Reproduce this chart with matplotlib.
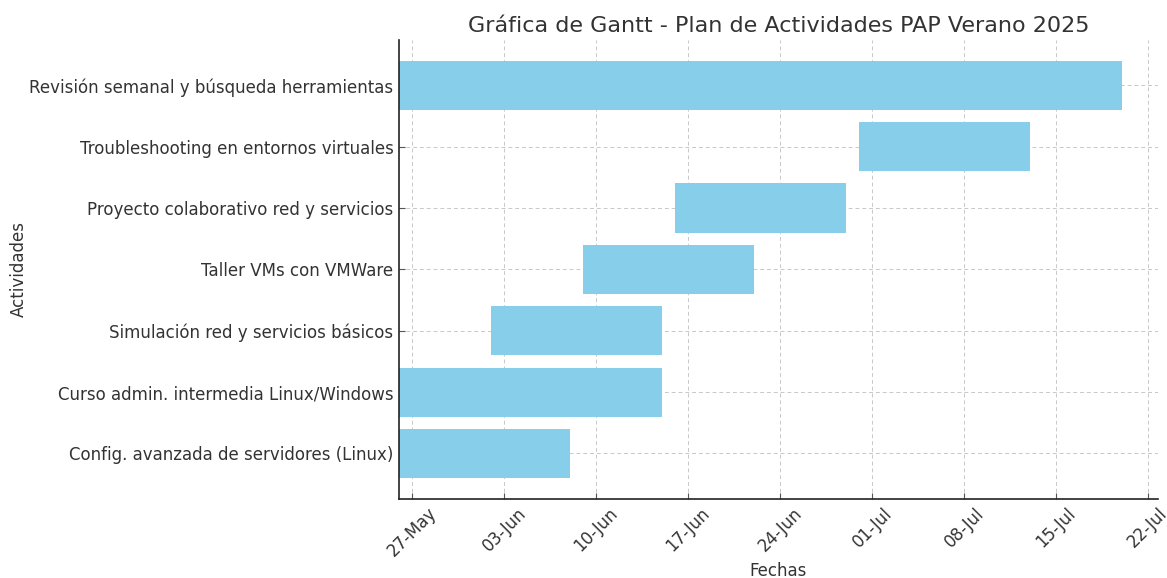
import datetime as dt
import matplotlib
matplotlib.use('Agg')
import matplotlib.dates as mdates
from matplotlib import pyplot as plt

# actividades (de abajo hacia arriba) con fechas de inicio y fin
actividades = [
	'Config. avanzada de servidores (Linux)',
	'Curso admin. intermedia Linux/Windows',
	'Simulación red y servicios básicos',
	'Taller VMs con VMWare',
	'Proyecto colaborativo red y servicios',
	'Troubleshooting en entornos virtuales',
	'Revisión semanal y búsqueda herramientas',
]
inicios = ['2025-05-26', '2025-05-26', '2025-06-02', '2025-06-09', '2025-06-16', '2025-06-30', '2025-05-26']
fines = ['2025-06-08', '2025-06-15', '2025-06-15', '2025-06-22', '2025-06-29', '2025-07-13', '2025-07-20']

TEXT = '#333333'
plt.rcParams['font.family'] = 'DejaVu Sans'


def main():
	start = [dt.datetime.strptime(s, '%Y-%m-%d') for s in inicios]
	end = [dt.datetime.strptime(s, '%Y-%m-%d') for s in fines]
	left = mdates.date2num(start)
	width = mdates.date2num(end) - left

	fig = plt.figure(figsize=(11.67, 5.78), dpi=100)
	ax = fig.add_axes([0.342, 0.137, 0.650, 0.794])
	ax.barh(range(len(actividades)), width, left=left, height=0.8, color='skyblue')

	ax.set_yticks(range(len(actividades)))
	ax.set_yticklabels(actividades)
	ax.xaxis_date()
	ax.xaxis.set_major_locator(mdates.WeekdayLocator(byweekday=mdates.TU))
	ax.xaxis.set_major_formatter(mdates.DateFormatter('%d-%b'))
	plt.setp(ax.get_xticklabels(), rotation=45)

	ax.set_title('Gráfica de Gantt - Plan de Actividades PAP Verano 2025', fontsize=16, color=TEXT, pad=6)
	ax.set_xlabel('Fechas', fontsize=12, color=TEXT, labelpad=1)
	ax.set_ylabel('Actividades', fontsize=12, color=TEXT, labelpad=1)
	ax.tick_params(axis='both', labelsize=12, labelcolor=TEXT, direction='in', length=4, color='#555555', pad=4)
	ax.grid(True, linestyle=(0, (4, 3)), color='#c8c8c8', linewidth=0.7)
	ax.set_axisbelow(True)
	for side in ['top', 'right']:
		ax.spines[side].set_visible(False)
	for side in ['left', 'bottom']:
		ax.spines[side].set_color('#222222')
		ax.spines[side].set_linewidth(1.2)

	fig.savefig('out.png')


if __name__ == "__main__":
	main()
